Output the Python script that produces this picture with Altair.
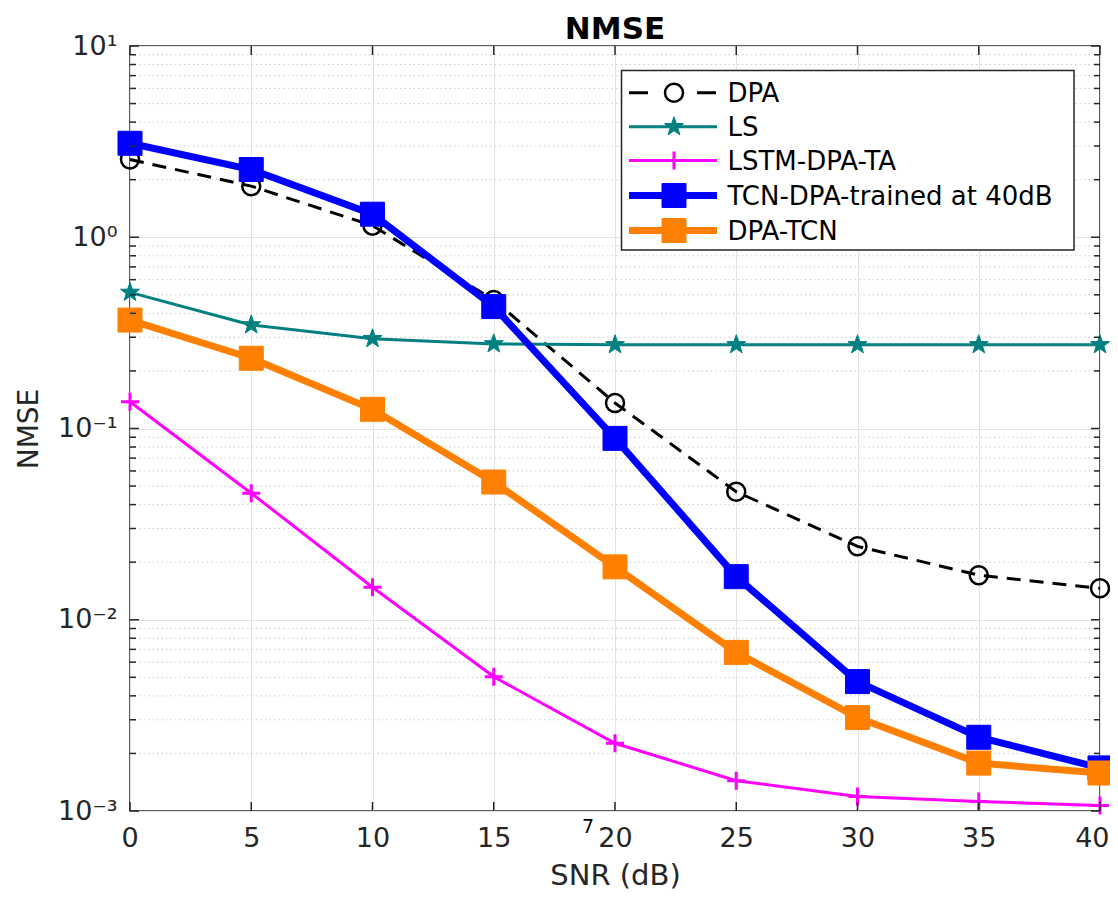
import altair as alt
import pandas as pd

# ---------------- data ----------------
snr = [0, 5, 10, 15, 20, 25, 30, 35, 40]
dpa = [2.55, 1.85, 1.15, 0.47, 0.136, 0.0467, 0.0242, 0.0171, 0.0146]
ls = [0.515, 0.348, 0.295, 0.277, 0.274, 0.274, 0.274, 0.274, 0.274]
lstm = [0.138, 0.0459, 0.0148, 0.00503, 0.00226, 0.00144, 0.00119, 0.00112, 0.00107]
tcn40 = [3.10, 2.26, 1.32, 0.434, 0.0888, 0.0168, 0.00475, 0.00243, 0.00168]
dpatcn = [0.369, 0.233, 0.126, 0.0525, 0.0189, 0.00675, 0.00308, 0.00178, 0.00158]

series_names = ["DPA", "LS", "LSTM-DPA-TA", "TCN-DPA-trained at 40dB", "DPA-TCN"]
series_values = [dpa, ls, lstm, tcn40, dpatcn]

x_ticks = [0, 5, 10, 15, 20, 25, 30, 35, 40]
y_major = [0.001, 0.01, 0.1, 1, 10]
y_minor = [m * d for d in [0.001, 0.01, 0.1, 1] for m in range(2, 10)]

# ---------------- styles ----------------
W, H = 970, 765
TXT = "#262626"
FONT = "DejaVu Sans"
PLUS = "M-1,0H1M0,-1V1"
STAR = ("M0,-1L0.235,-0.324L0.951,-0.309L0.38,0.124L0.588,0.809L0,0.4"
        "L-0.588,0.809L-0.38,0.124L-0.951,-0.309L-0.235,-0.324Z")

styles = [
    dict(color="black", width=3, dash=[14, 9], shape="circle", filled=False, size=324, sw=2.5),
    dict(color="#008080", width=3, dash=None, shape=STAR, filled=True, size=400, sw=1),
    dict(color="#FF00FF", width=3, dash=None, shape=PLUS, filled=False, size=324, sw=3),
    dict(color="#0000FF", width=7, dash=None, shape="square", filled=True, size=576, sw=1),
    dict(color="#FF8000", width=7, dash=None, shape="square", filled=True, size=576, sw=1),
]

label_expr = ("datum.value == 10 ? '10\u00b9' : datum.value == 1 ? '10\u2070' : "
              "datum.value == 0.1 ? '10\u207b\u00b9' : datum.value == 0.01 ? '10\u207b\u00b2' : "
              "'10\u207b\u00b3'")

X = alt.X("snr:Q", scale=alt.Scale(domain=[0, 40], nice=False, zero=False),
          axis=alt.Axis(values=x_ticks, grid=True, gridColor="#e3e3e3", gridWidth=1,
                        ticks=False, domain=False, labelFontSize=27, labelColor=TXT,
                        labelFont=FONT, labelPadding=14, labelBaseline="top",
                        labelFlush=True, labelFlushOffset=9,
                        title="SNR (dB)", titleFontSize=29,
                        titleFontWeight="normal", titleColor=TXT, titleFont=FONT,
                        titleX=W / 2, titleY=73, titleBaseline="alphabetic",
                        titleAlign="center"))
Y = alt.Y("nmse:Q", scale=alt.Scale(type="log", domain=[0.001, 10], nice=False),
          axis=alt.Axis(values=y_major, grid=True, gridColor="#e3e3e3", gridWidth=1,
                        ticks=False, domain=False, labelExpr=label_expr, labelFontSize=27,
                        labelColor=TXT, labelFont=FONT, labelPadding=13, labelFlush=False,
                        title="NMSE", titleFontSize=28, titleFontWeight="normal",
                        titleColor=TXT, titleFont=FONT, titleX=-93, titleY=H / 2,
                        titleAngle=270, titleBaseline="alphabetic", titleAlign="center"))

layers = []

# minor grid (dotted)
minor_df = pd.DataFrame({"nmse": y_minor})
layers.append(alt.Chart(minor_df).mark_rule(color="#cdcdcd", strokeWidth=1,
                                            strokeDash=[1.5, 3]).encode(
    y=Y, x=alt.value(0), x2=alt.value(W)))


def point_kw(st):
    kw = dict(shape=st["shape"], size=st["size"], filled=st["filled"], opacity=1)
    if st["filled"]:
        kw.update(fill=st["color"], stroke=st["color"], strokeWidth=st["sw"])
    else:
        kw.update(stroke=st["color"], strokeWidth=st["sw"], fillOpacity=0)
    return kw


# series
for name, vals, st in zip(series_names, series_values, styles):
    df = pd.DataFrame({"snr": snr, "nmse": vals, "series": name})
    line_kw = dict(color=st["color"], strokeWidth=st["width"], strokeJoin="miter")
    if st["dash"]:
        line_kw["strokeDash"] = st["dash"]
    layers.append(alt.Chart(df).mark_line(**line_kw).encode(x=X, y=Y))
    layers.append(alt.Chart(df).mark_point(**point_kw(st)).encode(x=X, y=Y))

# inward ticks (left/right on y, bottom/top on x)
maj_df = pd.DataFrame({"nmse": y_major})
layers.append(alt.Chart(maj_df).mark_rule(color=TXT, strokeWidth=1.5).encode(
    y=Y, x=alt.value(0), x2=alt.value(9)))
layers.append(alt.Chart(maj_df).mark_rule(color=TXT, strokeWidth=1.5).encode(
    y=Y, x=alt.value(W), x2=alt.value(W - 9)))
layers.append(alt.Chart(minor_df).mark_rule(color=TXT, strokeWidth=1.5).encode(
    y=Y, x=alt.value(0), x2=alt.value(6)))
layers.append(alt.Chart(minor_df).mark_rule(color=TXT, strokeWidth=1.5).encode(
    y=Y, x=alt.value(W), x2=alt.value(W - 6)))
xt_df = pd.DataFrame({"snr": x_ticks})
layers.append(alt.Chart(xt_df).mark_rule(color=TXT, strokeWidth=1.5).encode(
    x=X, y=alt.value(H), y2=alt.value(H - 9)))
layers.append(alt.Chart(xt_df).mark_rule(color=TXT, strokeWidth=1.5).encode(
    x=X, y=alt.value(0), y2=alt.value(9)))

one = pd.DataFrame({"a": [0]})

# stray "7" glyph near the 20 tick label
layers.append(alt.Chart(one).mark_text(text="7", fontSize=19, font=FONT, color="black",
                                       align="center", baseline="middle").encode(
    x=alt.value(458), y=alt.value(781)))

# legend (drawn manually to reproduce the MATLAB line+marker samples)
layers.append(alt.Chart(one).mark_rect(fill="white", stroke=TXT, strokeWidth=1.5).encode(
    x=alt.value(491.5), x2=alt.value(944), y=alt.value(24.5), y2=alt.value(204)))
leg_y = [46.7, 80.7, 114.5, 149.5, 184.5]
for name, st, yy in zip(series_names, styles, leg_y):
    rk = dict(color=st["color"], strokeWidth=st["width"])
    if st["dash"]:
        rk["strokeDash"] = [19, 49]
    layers.append(alt.Chart(one).mark_rule(**rk).encode(
        x=alt.value(499), x2=alt.value(587), y=alt.value(yy)))
    layers.append(alt.Chart(one).mark_point(**point_kw(st)).encode(
        x=alt.value(544), y=alt.value(yy)))
    layers.append(alt.Chart(one).mark_text(text=name, fontSize=26, font=FONT, color="black",
                                           align="left", baseline="middle").encode(
        x=alt.value(597.5), y=alt.value(yy + 1)))

chart = alt.layer(*layers).properties(
    width=W, height=H,
    title=alt.TitleParams("NMSE", fontSize=31, fontWeight="bold", font=FONT,
                          color="black", anchor="middle", offset=10, dy=24),
    autosize=alt.AutoSizeParams(type="none"),
    padding={"left": 122, "top": 38, "right": 10, "bottom": 79},
    background="white",
).configure_view(stroke=TXT, strokeWidth=1.5)

chart.save("out.html", embed_options={"renderer": "svg", "actions": False})
